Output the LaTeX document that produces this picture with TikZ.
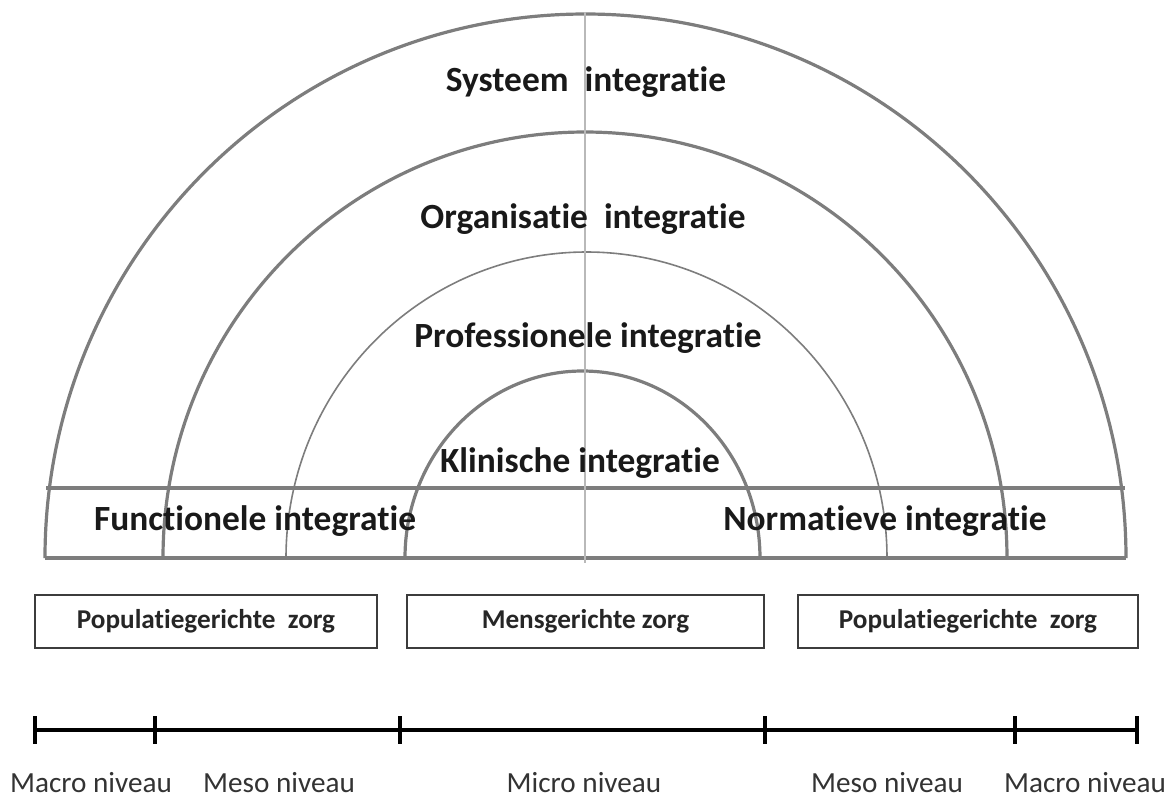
\documentclass[tikz,border=0pt]{standalone}
\usepackage{fontspec}
\setmainfont[Ligatures=NoCommon]{Carlito}
\definecolor{ringgray}{RGB}{125,125,125}
\definecolor{axisgray}{RGB}{185,185,185}
\definecolor{boxgray}{RGB}{60,60,60}
\begin{document}
\begin{tikzpicture}[x=0.5pt,y=-0.5pt,
	ring/.style={draw=ringgray, line width=1.6pt},
	thinring/.style={draw=ringgray, line width=0.8pt},
	head/.style={anchor=base, inner sep=0pt, font=\fontsize{17.7}{20}\selectfont\bfseries, text=black!90},
	zorgbox/.style={draw=boxgray, line width=1pt, minimum height=26.5pt, inner sep=0pt, font=\fontsize{13.6}{16}\selectfont\bfseries, text=black!85},
	level/.style={anchor=base, inner sep=0pt, font=\fontsize{14.6}{16}\selectfont, text=black!80},
	tick/.style={draw=black, line width=2pt}]
		\useasboundingbox (0,0) rectangle (1175,800);
		\draw[ring] (45,558) arc[start angle=180, end angle=360, x radius=540.5, y radius=544];
		\draw[ring] (163,558) arc[start angle=180, end angle=360, x radius=422, y radius=426];
		\draw[thinring] (286,558) arc[start angle=180, end angle=360, x radius=300.5, y radius=306];
		\draw[ring] (405,558) arc[start angle=180, end angle=360, x radius=177.5, y radius=187];
		\draw[ring] (46,488) -- (1125,488);
		\draw[ring] (45,558) -- (1126,558);
		\draw[axisgray, line width=1.2pt] (585,12) -- (585,563);
		\node[head] (sys) at (586,91) {Systeem\ \ integratie};
		\node[head] (org) at (583,228) {Organisatie\ \ integratie};
		\node[head] (prof) at (588,347) {Professionele integratie};
		\node[head] (klin) at (580,472) {Klinische integratie};
		\node[head] (func) at (255,530) {Functionele integratie};
		\node[head] (norm) at (885,530) {Normatieve integratie};
		\node[zorgbox, minimum width=171pt] (popl) at (206,621) {Populatiegerichte\ \ zorg};
		\node[zorgbox, minimum width=178.5pt] (mens) at (585.5,621) {Mensgerichte zorg};
		\node[zorgbox, minimum width=170pt] (popr) at (968,621) {Populatiegerichte\ \ zorg};
		\coordinate (t1) at (35,730);
		\coordinate (t2) at (155,730);
		\coordinate (t3) at (400,730);
		\coordinate (t4) at (765,730);
		\coordinate (t5) at (1015,730);
		\coordinate (t6) at (1137,730);
		\draw[tick] (t1) -- (t6);
		\foreach \n in {1,...,6}
			\draw[tick] ([yshift=7pt]t\n) -- ([yshift=-7pt]t\n);
		\node[level] (macl) at (91,792) {Macro niveau};
		\node[level] (mesl) at (279,792) {Meso niveau};
		\node[level] (mic) at (584,792) {Micro niveau};
		\node[level] (mesr) at (887,792) {Meso niveau};
		\node[level] (macr) at (1085,792) {Macro niveau};
\end{tikzpicture}
\end{document}
